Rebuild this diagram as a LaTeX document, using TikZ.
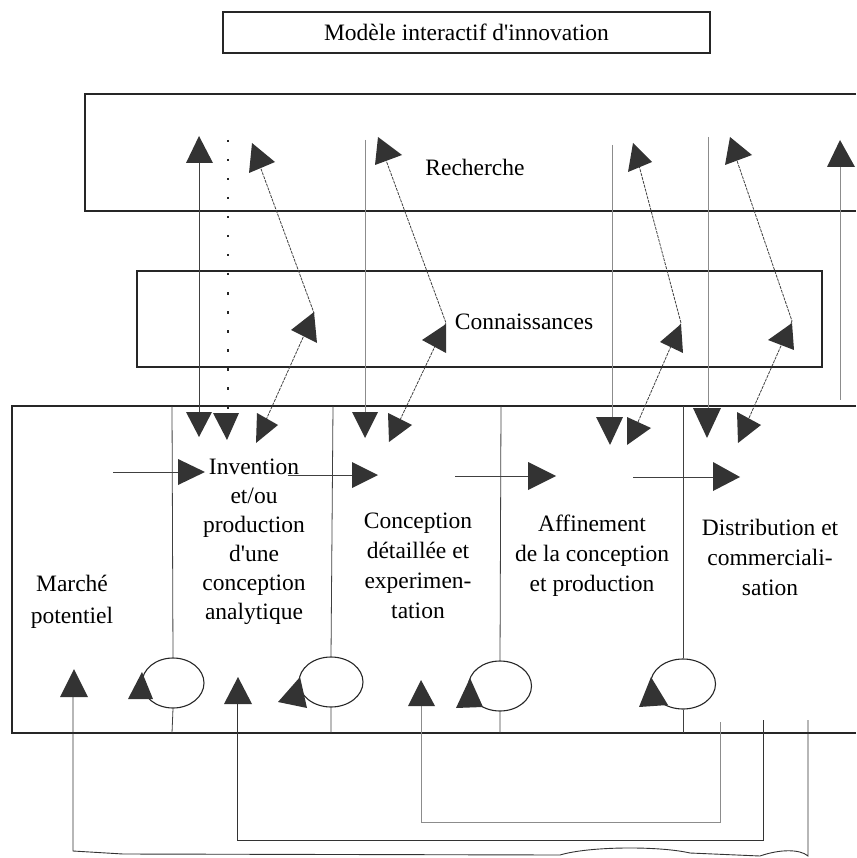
\documentclass[tikz,border=0pt]{standalone}
\usepackage{fontspec}
\setmainfont{Liberation Serif}
\usetikzlibrary{shapes.geometric}
\begin{document}
\begin{tikzpicture}[x=1pt,y=-1pt,
  frame/.style={draw=black!85, line width=1.3pt},
  link/.style={draw=black!75, line width=0.8pt},
  faint/.style={draw=black!45, line width=0.7pt},
  dots/.style={draw=black!85, line width=2.4pt, dash pattern=on 2.5pt off 16.5pt},
  head/.style={fill=black!80},
  lbl/.style={font=\fontsize{23.5}{30}\selectfont, align=center, text=black, inner sep=0pt},
  loop/.style={draw=black!80, line width=0.9pt},
  oval/.style={draw=black!85, line width=1.1pt, ellipse, minimum height=50pt, inner sep=0pt}]
\useasboundingbox (0,0) rectangle (856,858);

% ---------- title and the three bands ----------
\node[frame, lbl, minimum width=487pt, minimum height=41pt] (title) at (466.5,32.5) {Modèle interactif d\textquotesingle innovation};
\draw[frame] (856,94) -| (85,211) -- (856,211);
\draw[frame] (137,271) rectangle (822,367);
\draw[frame] (856,406) -| (12,733) -- (856,733);

\node[lbl] (rech) at (475,167) {Recherche};
\node[lbl] (conn) at (524,322) {Connaissances};

% ---------- stage labels ----------
\node[lbl, font=\fontsize{23.5}{32}\selectfont] (marche) at (72,602) {Marché\\potentiel};
\node[lbl, font=\fontsize{23.5}{29}\selectfont] (invention) at (254,542) {Invention\\et/ou\\production\\d\textquotesingle une\\conception\\analytique};
\node[lbl] (conception) at (418,566) {Conception\\détaillée et\\experimen-\\tation};
\node[lbl] (affinement) at (592,556) {Affinement\\de la conception\\et production};
\node[lbl] (distribution) at (770,557) {Distribution et\\commerciali-\\sation};

% ---------- feedback ellipses on the column dividers ----------
\node[oval, minimum width=62pt] (e1) at (173,683) {};
\node[oval, minimum width=64pt] (e2) at (331,682) {};
\node[oval, minimum width=63pt] (e3) at (500,686) {};
\node[oval, minimum width=65pt] (e4) at (683,684) {};

% column dividers: top of the band to the ellipse, ellipse to the bottom
\coordinate (d1t) at (172,406); \coordinate (d1b) at (172,733);
\coordinate (d2t) at (333,406); \coordinate (d2b) at (331,733);
\coordinate (d3t) at (501,406); \coordinate (d3b) at (500,733);
\coordinate (d4t) at (683,406); \coordinate (d4b) at (683,733);
\draw[link] (d1t) -- (e1.north) (e1.south) -- (d1b);
\draw[link] (d2t) -- (e2.north) (e2.south) -- (d2b);
\draw[link] (d3t) -- (e3.north) (e3.south) -- (d3b);
\draw[link] (d4t) -- (e4.north) (e4.south) -- (d4b);

% ---------- vertical links between the bands ----------
\coordinate (v1a) at (199,150); \coordinate (v1b) at (199,420);
\coordinate (v2a) at (228,140); \coordinate (v2b) at (228,414);
\coordinate (v3a) at (365,140); \coordinate (v3b) at (365,414);
\coordinate (v4a) at (612,145); \coordinate (v4b) at (612,420);
\coordinate (v5a) at (708,137); \coordinate (v5b) at (708,412);
\coordinate (v6a) at (840,160); \coordinate (v6b) at (840,400);
\draw[link] (v1a) -- (v1b);
\draw[dots] (v2a) -- (v2b);
\draw[faint] (v3a) -- (v3b);
\draw[faint] (v4a) -- (v4b);
\draw[faint] (v5a) -- (v5b);
\draw[faint] (v6a) -- (v6b);

% ---------- bent links: stage -> knowledge -> research ----------
\coordinate (k1s) at (266,420); \coordinate (k1m) at (314,313); \coordinate (k1e) at (257,158);
\coordinate (k2s) at (400,420); \coordinate (k2m) at (446,323); \coordinate (k2e) at (383,152);
\coordinate (k3s) at (638,422); \coordinate (k3m) at (681,323); \coordinate (k3e) at (637,158);
\coordinate (k4s) at (749,418); \coordinate (k4m) at (792,321); \coordinate (k4e) at (734,152);
\draw[link, dash pattern=on 3pt off 1pt] (k1s) -- (k1m) -- (k1e);
\draw[link, dash pattern=on 3pt off 1pt] (k2s) -- (k2m) -- (k2e);
\draw[link, dash pattern=on 3pt off 1pt] (k3s) -- (k3m) -- (k3e);
\draw[link, dash pattern=on 3pt off 1pt] (k4s) -- (k4m) -- (k4e);

% ---------- horizontal flow between the stages ----------
\coordinate (h1s) at (113,472); \coordinate (h1e) at (182,472);
\coordinate (h2s) at (288,475); \coordinate (h2e) at (355,475);
\coordinate (h3s) at (455,476); \coordinate (h3e) at (530,476);
\coordinate (h4s) at (633,477); \coordinate (h4e) at (715,477);
\draw[link] (h1s) -- (h1e);
\draw[link] (h2s) -- (h2e);
\draw[link] (h3s) -- (h3e);
\draw[link] (h4s) -- (h4e);

% ---------- feedback loops under the stages ----------
\coordinate (f1a) at (73,697);  \coordinate (f1b) at (73,851);  \coordinate (f1c) at (808,856); \coordinate (f1d) at (808,720);
\coordinate (f2a) at (237,704); \coordinate (f2b) at (237,840); \coordinate (f2c) at (763,840); \coordinate (f2d) at (763,720);
\coordinate (f3a) at (421,706); \coordinate (f3b) at (421,822); \coordinate (f3c) at (720,822); \coordinate (f3d) at (720,722);
\draw[loop] (f1a) -- (f1b) -- (123,854) -- (560,855)
  .. controls (590,846) and (660,846) .. (690,853) -- (760,856)
  .. controls (780,849) and (800,849) .. (f1c) -- (f1d);
\draw[loop] (f2a) -- (f2b) -- (f2c) -- (f2d);
\draw[faint, line width=0.9pt] (f3a) -- (f3b) -- (f3c) -- (f3d);

% ---------- arrowheads ----------
% into the research band
\fill[head] (186,163) -- (199,136) -- (213,163) -- cycle;
\fill[head] (252,143) -- (275,162) -- (249,173) -- cycle;
\fill[head] (378,137) -- (402,155) -- (375,165) -- cycle;
\fill[head] (633,143) -- (652,162) -- (628,172) -- cycle;
\fill[head] (730,137) -- (752,155) -- (725,165) -- cycle;
\fill[head] (827,167) -- (840,140) -- (855,167) -- cycle;
% into the knowledge band
\fill[head] (291,330) -- (314,312) -- (317,343) -- cycle;
\fill[head] (422,340) -- (446,324) -- (446,353) -- cycle;
\fill[head] (660,342) -- (681,324) -- (683,353) -- cycle;
\fill[head] (768,340) -- (792,323) -- (794,350) -- cycle;
% down into the stages
\fill[head] (186,412) -- (212,412) -- (199,437) -- cycle;
\fill[head] (213,413) -- (239,413) -- (227,440) -- cycle;
\fill[head] (352,412) -- (378,412) -- (365,438) -- cycle;
\fill[head] (596,417) -- (623,417) -- (610,445) -- cycle;
\fill[head] (693,408) -- (721,408) -- (707,438) -- cycle;
\fill[head] (257,413) -- (278,425) -- (256,443) -- cycle;
\fill[head] (388,413) -- (412,425) -- (389,442) -- cycle;
\fill[head] (627,417) -- (651,428) -- (627,445) -- cycle;
\fill[head] (737,412) -- (761,425) -- (738,443) -- cycle;
% stage to stage
\fill[head] (178,459) -- (205,472) -- (178,485) -- cycle;
\fill[head] (352,462) -- (378,475) -- (352,488) -- cycle;
\fill[head] (528,462) -- (556,476) -- (528,490) -- cycle;
\fill[head] (713,462) -- (740,477) -- (713,491) -- cycle;
% on the ellipses
\fill[head] (142,672) -- (128,699) -- (153,699) -- cycle;
\fill[head] (300,677) -- (278,702) -- (307,708) -- cycle;
\fill[head] (470,678) -- (456,708) -- (483,707) -- cycle;
\fill[head] (651,677) -- (639,707) -- (668,705) -- cycle;
% ends of the feedback loops
\fill[head] (60,697) -- (74,669) -- (88,697) -- cycle;
\fill[head] (224,704) -- (238,677) -- (252,704) -- cycle;
\fill[head] (408,706) -- (421,680) -- (435,706) -- cycle;
\end{tikzpicture}
\end{document}
